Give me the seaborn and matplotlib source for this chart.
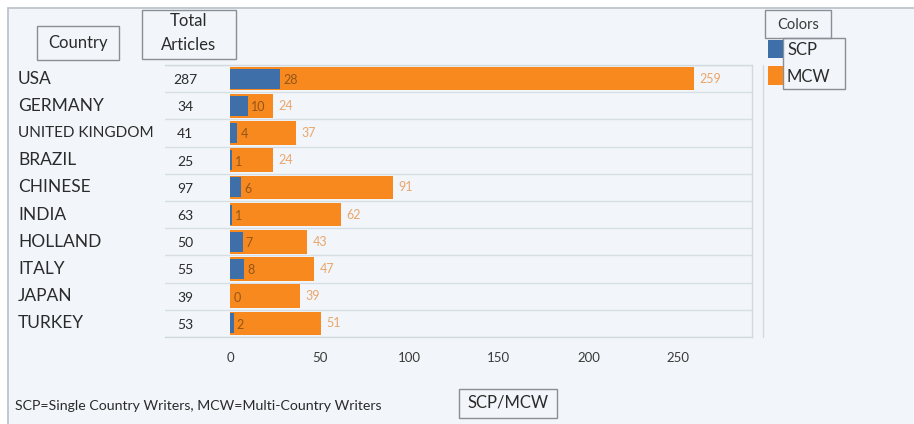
import matplotlib
matplotlib.use("Agg")
import matplotlib.pyplot as plt
from matplotlib.patches import Rectangle
import seaborn as sns
import pandas as pd

# Articles per country, split by authorship type
countries = ["USA", "GERMANY", "UNITED KINGDOM", "BRAZIL", "CHINESE",
             "INDIA", "HOLLAND", "ITALY", "JAPAN", "TURKEY"]
scp = [28, 10, 4, 1, 6, 1, 7, 8, 0, 2]
mcw = [259, 24, 37, 24, 91, 62, 43, 47, 39, 51]
totals = [287, 34, 41, 25, 97, 63, 50, 55, 39, 53]
xticks = [0, 50, 100, 150, 200, 250]

df = pd.DataFrame({"Country": countries, "SCP": scp, "MCW": mcw, "Total": totals})

sns.set_theme(style="white")
plt.rcParams["font.family"] = ["Lato", "DejaVu Sans"]

W, H = 914, 424
BG = "#f2f6fa"
BLUE = "#3e6fa9"
ORANGE = "#f7891e"
TXT = "#2b2b2b"
EDGE = "#8a8f96"

fig = plt.figure(figsize=(W / 100, H / 100), dpi=100)
fig.patch.set_facecolor("white")


def fx(px):
    return px / W


def fy(py):
    return 1 - py / H


def box(x0, y0, x1, y1, **kw):
    fig.add_artist(Rectangle((fx(x0), fy(y1)), fx(x1) - fx(x0), fy(y0) - fy(y1),
                             transform=fig.transFigure, **kw))


# panel background and its outline
box(8, 8, W + 5, H + 5, facecolor=BG, edgecolor="#b9c0c8", lw=1.2, zorder=0)

ax_l, ax_r, ax_t, ax_b = 165, 752, 65, 337
ax = fig.add_axes([fx(ax_l), fy(ax_b), fx(ax_r) - fx(ax_l), fy(ax_t) - fy(ax_b)])
ax.set_facecolor(BG)

sns.barplot(data=df, y="Country", x="MCW", orient="h", color=ORANGE,
            width=0.87, saturation=1, linewidth=0, ax=ax, zorder=2)
sns.barplot(data=df, y="Country", x="SCP", orient="h", color=BLUE,
            width=0.74, saturation=1, linewidth=0, ax=ax, zorder=3)

px_per_unit = 1.792
x0 = -(230 - ax_l) / px_per_unit
x1 = (ax_r - 230) / px_per_unit
ax.set_xlim(x0, x1)
ax.set_ylim(len(countries) - 0.5, -0.5)

# row separators
for i in range(len(countries) + 1):
    ax.axhline(i - 0.5, color="#d8dee5", lw=1.0, zorder=1)

ax.spines["left"].set_visible(False)
for s in ["top", "bottom", "right"]:
    ax.spines[s].set_color("#d3d9e0")
    ax.spines[s].set_linewidth(1.0)

ax.set_xticks(xticks)
ax.set_xticklabels([str(t) for t in xticks])
ax.tick_params(axis="x", length=0, pad=11, labelsize=9.5, labelcolor="#3a3a3a")
ax.set_yticks([])
ax.set_xlabel("")
ax.set_ylabel("")

for i, (s, m, t) in enumerate(zip(scp, mcw, totals)):
    ax.text(s + 1.8, i + 0.05, str(s), va="center", ha="left",
            fontsize=9, color="#94561a", zorder=4)
    ax.text(m + 3.0, i + 0.0, str(m), va="center", ha="left",
            fontsize=9, color="#eaa66b", zorder=4)
    ax.text(-25, i + 0.05, str(t), va="center", ha="center",
            fontsize=10, color=TXT, zorder=4)

# country names to the left of the table
for i, c in enumerate(countries):
    yc = ax_t + (i + 0.5) * (ax_b - ax_t) / len(countries)
    size = 11 if len(c) > 10 else 12.5
    fig.text(fx(18), fy(yc), c, ha="left", va="center", fontsize=size, color=TXT)

# vertical rule right of the plot
fig.add_artist(plt.Line2D([fx(763), fx(763)], [fy(65), fy(337)],
                          transform=fig.transFigure, color="#d3d9e0", lw=1.0))

# column headers
box(37, 26, 119, 60, facecolor="none", edgecolor=EDGE, lw=1.0, zorder=5)
fig.text(fx(78), fy(43), "Country", ha="center", va="center", fontsize=12, color=TXT)
box(142, 10, 236, 59, facecolor="none", edgecolor=EDGE, lw=1.0, zorder=5)
fig.text(fx(189), fy(21), "Total", ha="center", va="center", fontsize=12, color=TXT)
fig.text(fx(189), fy(45), "Articles", ha="center", va="center", fontsize=12, color=TXT)

# colour key
box(765, 10, 831, 38, facecolor="none", edgecolor=EDGE, lw=1.0, zorder=5)
fig.text(fx(798), fy(25), "Colors", ha="center", va="center", fontsize=10.5, color="#3a3a3a")
box(783, 38, 845, 89, facecolor="none", edgecolor=EDGE, lw=1.0, zorder=5)
box(768, 40, 783, 58, facecolor=BLUE, edgecolor="none", zorder=6)
box(768, 66, 783, 85, facecolor=ORANGE, edgecolor="none", zorder=6)
fig.text(fx(787), fy(50), "SCP", ha="left", va="center", fontsize=12, color=TXT)
fig.text(fx(787), fy(77), "MCW", ha="left", va="center", fontsize=12, color=TXT)

# footnote and axis title
fig.text(fx(15), fy(406), "SCP=Single Country Writers, MCW=Multi-Country Writers",
         ha="left", va="center", fontsize=10.2, color=TXT)
box(459, 389, 557, 418, facecolor="none", edgecolor=EDGE, lw=1.0, zorder=5)
fig.text(fx(508), fy(403), "SCP/MCW", ha="center", va="center", fontsize=12, color=TXT)

fig.savefig("out.png", dpi=100, facecolor=fig.get_facecolor())
